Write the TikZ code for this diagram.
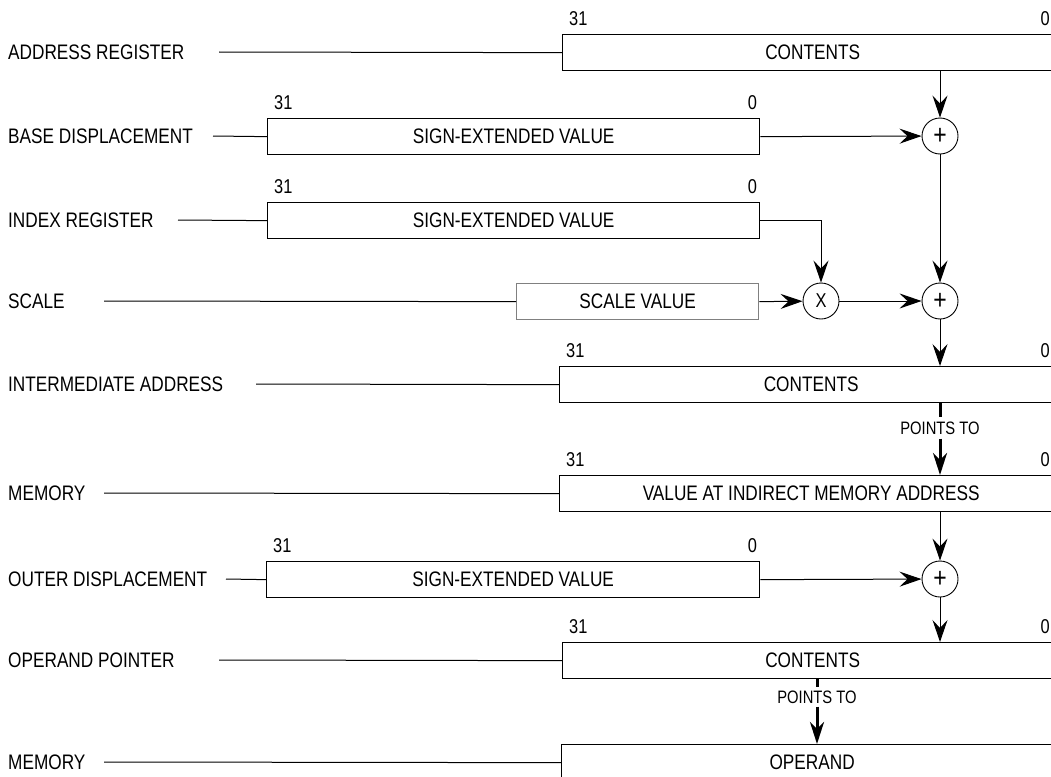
\documentclass[tikz,border=0pt]{standalone}
\usepackage{fontspec}
\setmainfont[FakeStretch=0.82]{Liberation Sans}
\usetikzlibrary{arrows.meta}
\begin{document}
\begin{tikzpicture}[x=1pt,y=-1pt,
  every node/.style={font=\fontsize{21}{25}\selectfont, inner sep=0pt},
  reg/.style={draw, line width=1.3pt, minimum height=36pt, anchor=north west},
  lbl/.style={anchor=west},
  bit/.style={font=\fontsize{20}{24}\selectfont},
  op/.style={draw, circle, minimum size=36pt, line width=0.9pt, font=\fontsize{20}{24}\selectfont},
  plus/.style={op, font=\fontsize{28}{30}\selectfont},
  wire/.style={line width=1pt},
  flow/.style={line width=1pt, -{Stealth[length=22pt,width=15pt,inset=8pt]}},
  ptrline/.style={line width=3pt},
  ptrarrow/.style={line width=3pt, -{Stealth[length=22pt,width=14pt,inset=7pt]}},
  ptrtext/.style={font=\fontsize{18}{22}\selectfont, inner sep=4pt}]
\useasboundingbox (0,0) rectangle (1051,776);
\clip (0,0) rectangle (1051,776);

% row labels
\node[lbl] (lar) at (8,52)  {ADDRESS REGISTER};
\node[lbl] (lbd) at (8,136) {BASE DISPLACEMENT};
\node[lbl] (lir) at (8,220) {INDEX REGISTER};
\node[lbl] (lsc) at (8,301) {SCALE};
\node[lbl] (lia) at (8,384) {INTERMEDIATE ADDRESS};
\node[lbl] (lme) at (8,493) {MEMORY};
\node[lbl] (lod) at (8,579) {OUTER DISPLACEMENT};
\node[lbl] (lop) at (8,660) {OPERAND POINTER};
\node[lbl] (lmo) at (8,762) {MEMORY};

% registers
\node[reg, minimum width=500pt] (ar) at (562,34)  {CONTENTS};
\node[reg, minimum width=492pt] (bd) at (267,118) {SIGN-EXTENDED VALUE};
\node[reg, minimum width=492pt] (ir) at (267,202) {SIGN-EXTENDED VALUE};
\node[reg, minimum width=242pt, draw=black!50] (sc) at (516,283) {SCALE VALUE};
\node[reg, minimum width=503pt] (ia) at (559,366) {CONTENTS};
\node[reg, minimum width=503pt] (me) at (559,475) {VALUE AT INDIRECT MEMORY ADDRESS};
\node[reg, minimum width=493pt] (od) at (266,561) {SIGN-EXTENDED VALUE};
\node[reg, minimum width=500pt] (opp) at (562,642) {CONTENTS};
\node[reg, minimum width=501pt] (mo) at (561,744) {OPERAND};

% bit numbers
\foreach \r/\z in {ar/1050, ia/1050, me/1050, opp/1050}{
  \node[bit, anchor=south west] at ([xshift=7pt,yshift=8pt]\r.north west) {31};
  \node[bit, anchor=south east] at ([yshift=8pt]\r.north west -| \z,0) {0};
}
\foreach \r in {bd, ir, od}{
  \node[bit, anchor=south west] at ([xshift=7pt,yshift=8pt]\r.north west) {31};
  \node[bit, anchor=south east] at ([xshift=-3pt,yshift=8pt]\r.north east) {0};
}

% adders and multiplier
\node[plus] (p1) at (940,136) {+};
\node[op] (mx) at (821,301) {X};
\node[plus] (p2) at (940,301) {+};
\node[plus] (p3) at (940,579) {+};

% leader lines from the row labels
\coordinate (sar) at (219,52);
\coordinate (sbd) at (213,136);
\coordinate (sir) at (178,220);
\coordinate (ssc) at (104,301);
\coordinate (sia) at (256,384);
\coordinate (sme) at (104,493);
\coordinate (sod) at (226,579);
\coordinate (sop) at (219,660);
\coordinate (smo) at (104,762);
\draw[wire] (sar) -- (ar.west);
\draw[wire] (sbd) -- (bd.west);
\draw[wire] (sir) -- (ir.west);
\draw[wire] (ssc) -- (sc.west);
\draw[wire] (sia) -- (ia.west);
\draw[wire] (sme) -- (me.west);
\draw[wire] (sod) -- (od.west);
\draw[wire] (sop) -- (opp.west);
\draw[wire] (smo) -- (mo.west);

% address calculation
\draw[flow] (ar.south -| p1) -- (p1);
\draw[flow] (bd.east) -- (p1);
\draw[flow] (ir.east) -| (mx);
\draw[flow] (sc.east) -- (mx);
\draw[flow] (mx) -- (p2);
\draw[flow] (p1) -- (p2);
\draw[flow] (p2) -- (p2 |- ia.north);

% indirection through memory
\node[ptrtext] (pt1) at (940,428) {POINTS TO};
\draw[ptrline] (ia.south -| pt1) -- (pt1.north);
\draw[ptrarrow] (pt1.south) -- (me.north -| pt1);

\draw[flow] (me.south -| p3) -- (p3);
\draw[flow] (od.east) -- (p3);
\draw[flow] (p3) -- (p3 |- opp.north);

\node[ptrtext, inner sep=3pt] (pt2) at (817,697) {POINTS TO};
\draw[ptrline] (opp.south -| pt2) -- (pt2.north);
\draw[ptrarrow] (pt2.south) -- (mo.north -| pt2);
\end{tikzpicture}
\end{document}
